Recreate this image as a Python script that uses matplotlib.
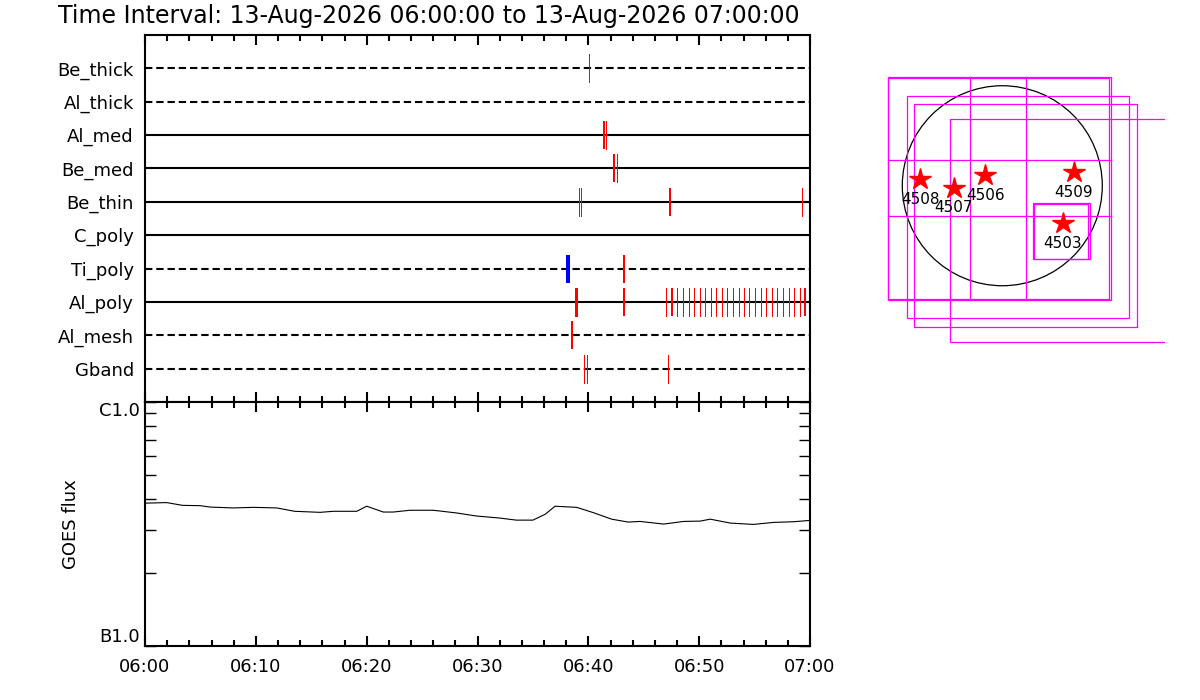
import matplotlib
matplotlib.use("Agg")
import matplotlib.pyplot as plt
from matplotlib.patches import Circle, Rectangle
from matplotlib.ticker import FixedLocator, NullFormatter
import numpy

plt.rcParams['font.family'] = ['DejaVu Sans']
plt.rcParams['lines.scale_dashes'] = False

TITLE = "Time Interval: 13-Aug-2026 06:00:00 to 13-Aug-2026 07:00:00"

# detector rows, bottom to top
rows = ["Gband", "Al_mesh", "Al_poly", "Ti_poly", "C_poly",
        "Be_thin", "Be_med", "Al_med", "Al_thick", "Be_thick"]
row_dashed = [True, True, False, True, False, False, False, False, True, True]

# events per row: minutes after 06:00, duration in seconds
ev_time = {
    "Be_thick": [40.09],
    "Al_thick": [],
    "Al_med": [41.41, 41.62],
    "Be_med": [42.32, 42.62],
    "Be_thin": [39.19, 39.37, 47.34, 59.31],
    "C_poly": [],
    "Ti_poly": [43.19],
    "Al_poly": [38.92, 43.19, 47.04, 47.55, 48.03, 48.54, 49.05, 49.53, 50.05,
                50.56, 51.07, 51.55, 52.06, 52.54, 53.05, 53.56, 54.05, 54.53,
                55.07, 55.55, 56.06, 56.57, 57.05, 57.56, 58.08, 58.56, 59.07, 59.55],
    "Al_mesh": [38.55],
    "Gband": [39.64, 39.91, 47.16],
}
ev_dur = {
    "Be_thick": [5],
    "Al_thick": [],
    "Al_med": [11, 5],
    "Be_med": [11, 5],
    "Be_thin": [5, 5, 13, 5],
    "C_poly": [],
    "Ti_poly": [11],
    "Al_poly": [16, 11, 5, 11, 5, 5, 5, 5, 5, 5, 5, 5, 5, 5, 5, 5, 5, 5,
                5, 5, 5, 5, 5, 5, 5, 5, 5, 11],
    "Al_mesh": [11],
    "Gband": [5, 5, 5],
}
# flagged (blue) events
blue_row = "Ti_poly"
blue_time = [38.17]
blue_dur = [22]

# GOES flux
goes_t = [0, 1.96, 3.4, 4.96, 5.9, 7.97, 9.77, 11.88, 13.5, 15.8, 17.0, 19.1,
          20.0, 21.5, 22.4, 23.9, 26.0, 26.6, 28.1, 29.9, 32.0, 33.5, 35.0, 36.1,
          37.0, 38.95, 40.45, 42.1, 43.6, 44.66, 46.8, 48.6, 50.1, 51.0, 52.8,
          54.9, 56.7, 58.5, 59.95]
goes_flux = [3.85e-7, 3.87e-7, 3.77e-7, 3.76e-7, 3.71e-7, 3.68e-7, 3.70e-7,
             3.68e-7, 3.565e-7, 3.53e-7, 3.565e-7, 3.565e-7, 3.74e-7, 3.54e-7,
             3.54e-7, 3.60e-7, 3.60e-7, 3.575e-7, 3.51e-7, 3.41e-7, 3.345e-7,
             3.28e-7, 3.28e-7, 3.465e-7, 3.74e-7, 3.70e-7, 3.52e-7, 3.31e-7,
             3.22e-7, 3.24e-7, 3.16e-7, 3.24e-7, 3.25e-7, 3.31e-7, 3.19e-7,
             3.15e-7, 3.21e-7, 3.23e-7, 3.27e-7]

time_ticks = [0, 10, 20, 30, 40, 50, 60]
time_labels = ["06:00", "06:10", "06:20", "06:30", "06:40", "06:50", "07:00"]

# map: regions (arcsec)
ar_names = ["4508", "4507", "4506", "4509", "4503"]
ar_x = [-790, -464, -163, 685, 580]
ar_y = [64, -19, 103, 129, -361]
# boxes: x0, y0, x1, y1
box_x0 = [-1101, -1094, -919, -845, -506, 291, 307]
box_y0 = [-1097, -1088, -1273, -1359, -1498, -707, -701]
box_x1 = [1041, 1024, 1216, 1290, 1900, 838, 820]
box_y1 = [1041, 1031, 858, 781, 637, -169, -176]
grid_vx = [-310, 230]
grid_hy = [245, -293]
sun_r = 960

fig = plt.figure(figsize=(12, 7), dpi=100)
W, H = 1200.0, 700.0
ax1 = fig.add_axes([145 / W, 1 - 402 / H, 665 / W, 367 / H])
ax2 = fig.add_axes([145 / W, 1 - 646 / H, 665 / W, 244 / H])
ax3 = fig.add_axes([860 / W, 1 - 365 / H, 305 / W, 305 / H])

fig.text(58 / W, 1 - 16 / H, TITLE, fontsize=17, ha='left', va='center')

px_per_min = 665 / 60.0
# top panel
for i, name in enumerate(rows):
    y = i + 1
    if row_dashed[i]:
        ax1.plot([0, 60], [y, y], color='black', lw=1.5, dashes=(5.3, 2.8))
    else:
        ax1.plot([0, 60], [y, y], color='black', lw=1.5)
    lws = [round(max(d / 60.0 * px_per_min, 1.0)) * 0.72 for d in ev_dur[name]]
    if ev_time[name]:
        ax1.vlines(ev_time[name], y - 0.42, y + 0.42, colors='red',
                   linewidths=lws, antialiased=False, zorder=3)
    if name == blue_row:
        blw = [round(max(d / 60.0 * px_per_min, 1.0)) * 0.72 for d in blue_dur]
        ax1.vlines(blue_time, y - 0.42, y + 0.42, colors='blue',
                   linewidths=blw, antialiased=False, zorder=3)

ax1.set_xlim(0, 60)
ax1.set_ylim(0, 11)
ax1.set_yticks(range(1, len(rows) + 1))
ax1.set_yticklabels(rows, fontsize=13)
ax1.tick_params(axis='y', length=0, pad=8)
ax1.set_xticks(time_ticks)
ax1.xaxis.set_minor_locator(FixedLocator(numpy.arange(0, 61, 2)))
ax1.tick_params(axis='x', which='both', direction='in', top=True, bottom=True,
                labelbottom=False, width=1.5)
ax1.tick_params(axis='x', which='major', length=7)
ax1.tick_params(axis='x', which='minor', length=4)

# GOES panel
ax2.plot(goes_t, goes_flux, color='black', lw=0.8)
ax2.set_yscale('log')
ax2.set_ylim(1e-7, 1e-6)
ax2.set_xlim(0, 60)
ax2.set_yticks([1e-7, 1e-6])
ax2.set_yticklabels(["B1.0", "C1.0"], fontsize=13)
ax2.yaxis.set_minor_locator(FixedLocator([k * 1e-7 for k in range(2, 10)]))
ax2.yaxis.set_minor_formatter(NullFormatter())
ax2.tick_params(axis='y', which='both', direction='in', left=True, right=True, width=1)
ax2.tick_params(axis='y', which='major', length=8)
ax2.tick_params(axis='y', which='minor', length=8)
labs = ax2.get_yticklabels()
labs[0].set_va('bottom')
labs[1].set_va('top')
ax2.set_xticks(time_ticks)
ax2.set_xticklabels(time_labels, fontsize=13)
ax2.xaxis.set_minor_locator(FixedLocator(numpy.arange(0, 61, 2)))
ax2.tick_params(axis='x', which='both', direction='in', top=True, bottom=True, width=1.5, pad=9)
ax2.tick_params(axis='x', which='major', length=7)
ax2.tick_params(axis='x', which='minor', length=4)
ax2.set_ylabel("GOES flux", fontsize=13, labelpad=14)

for a in (ax1, ax2):
    for s in a.spines.values():
        s.set_linewidth(1.5)

# map panel
ax3.set_xlim(-1366, 1562)
ax3.set_ylim(-1721, 1207)
ax3.axis('off')
ax3.add_patch(Circle((0, 0), sun_r, fill=False, color='black', lw=0.9))
for x0, y0, x1, y1 in zip(box_x0, box_y0, box_x1, box_y1):
    ax3.add_patch(Rectangle((x0, y0), x1 - x0, y1 - y0, fill=False,
                            edgecolor='#ff00ff', lw=0.9))
for gx in grid_vx:
    ax3.plot([gx, gx], [box_y0[0], box_y1[0]], color='#ff00ff', lw=0.9)
for gy in grid_hy:
    ax3.plot([box_x0[0], box_x1[0]], [gy, gy], color='#ff00ff', lw=0.9)
ax3.plot(ar_x, ar_y, '*', color='red', markersize=16, linestyle='none')
for n, x, y in zip(ar_names, ar_x, ar_y):
    ax3.annotate(n, (x, y), xytext=(0, -14.5), textcoords='offset points',
                 ha='center', va='center', fontsize=11)

fig.savefig("out.png", dpi=100)
